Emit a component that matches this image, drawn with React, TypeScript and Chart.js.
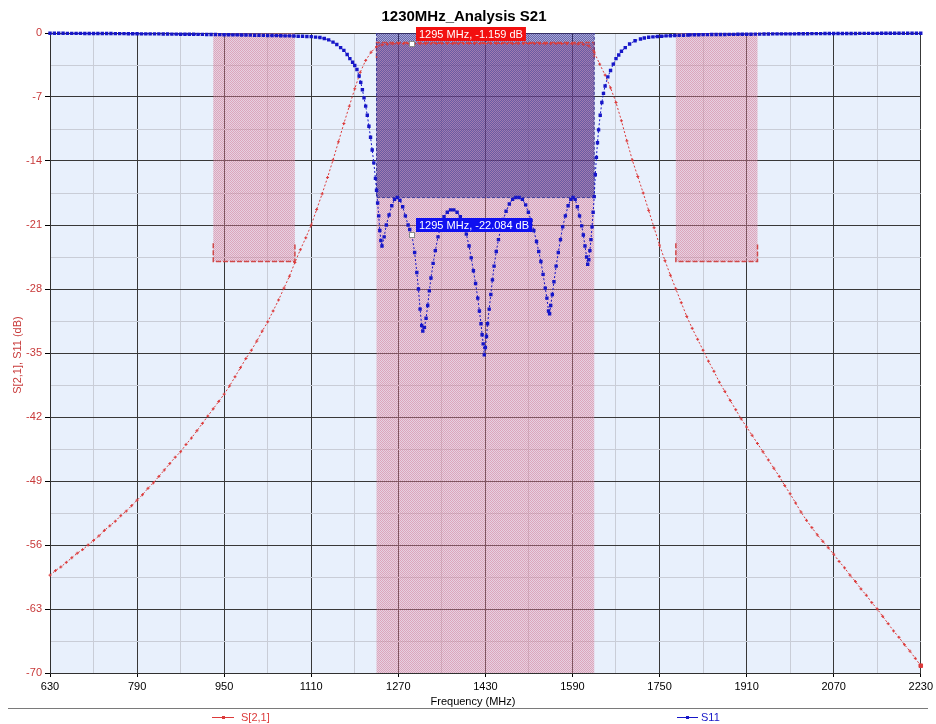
import React, { useEffect, useRef } from 'react';
import { Chart, registerables } from 'chart.js';

Chart.register(...registerables);

const FONT = '"Liberation Sans", Arial, Helvetica, sans-serif';

// ---- axis ticks ----
const X_TICKS = [630, 790, 950, 1110, 1270, 1430, 1590, 1750, 1910, 2070, 2230];
const Y_TICKS = [0, -7, -14, -21, -28, -35, -42, -49, -56, -63, -70];

// ---- S[2,1] trace (MHz, dB) ----
const S21_FREQ = [
  630, 640, 650, 660, 670, 680, 690, 700, 710, 720,
  730, 740, 750, 760, 770, 780, 790, 800, 810, 820,
  830, 840, 850, 860, 870, 880, 890, 900, 910, 920,
  930, 940, 950, 960, 970, 980, 990, 1000, 1010, 1020,
  1030, 1040, 1050, 1060, 1070, 1080, 1090, 1100, 1110, 1120,
  1130, 1140, 1150, 1160, 1170, 1180, 1190, 1200, 1210, 1220,
  1230, 1240, 1250, 1260, 1270, 1280, 1290, 1300, 1310, 1320,
  1330, 1340, 1350, 1360, 1370, 1380, 1390, 1400, 1410, 1420,
  1430, 1440, 1450, 1460, 1470, 1480, 1490, 1500, 1510, 1520,
  1530, 1540, 1550, 1560, 1570, 1580, 1590, 1600, 1610, 1620,
  1630, 1640, 1650, 1660, 1670, 1680, 1690, 1700, 1710, 1720,
  1730, 1740, 1750, 1760, 1770, 1780, 1790, 1800, 1810, 1820,
  1830, 1840, 1850, 1860, 1870, 1880, 1890, 1900, 1910, 1920,
  1930, 1940, 1950, 1960, 1970, 1980, 1990, 2000, 2010, 2020,
  2030, 2040, 2050, 2060, 2070, 2080, 2090, 2100, 2110, 2120,
  2130, 2140, 2150, 2160, 2170, 2180, 2190, 2200, 2210, 2220,
  2230,
];
const S21_DB = [
  -59.3, -58.8, -58.4, -57.9, -57.4, -56.9, -56.5, -56.0, -55.5, -55.0,
  -54.4, -53.9, -53.4, -52.8, -52.3, -51.7, -51.1, -50.5, -49.8, -49.2,
  -48.5, -47.8, -47.1, -46.4, -45.8, -45.0, -44.3, -43.5, -42.7, -41.9,
  -41.1, -40.3, -39.5, -38.6, -37.6, -36.6, -35.6, -34.7, -33.7, -32.6,
  -31.6, -30.4, -29.2, -27.9, -26.6, -25.1, -23.7, -22.4, -21.0, -19.3,
  -17.6, -15.8, -13.9, -11.9, -9.9, -8.0, -6.1, -4.3, -3.0, -2.1,
  -1.5, -1.3, -1.22, -1.18, -1.16, -1.16, -1.16, -1.16, -1.17, -1.17,
  -1.16, -1.15, -1.15, -1.15, -1.16, -1.16, -1.15, -1.15, -1.15, -1.15,
  -1.15, -1.15, -1.15, -1.15, -1.15, -1.16, -1.16, -1.16, -1.15, -1.15,
  -1.16, -1.17, -1.17, -1.16, -1.16, -1.17, -1.18, -1.2, -1.25, -1.4,
  -2.1, -3.4, -4.6, -6.0, -7.6, -9.6, -11.8, -13.9, -15.7, -17.5,
  -19.4, -21.3, -23.2, -24.9, -26.5, -28.0, -29.5, -31.0, -32.3, -33.5,
  -34.7, -35.9, -37.0, -38.2, -39.2, -40.2, -41.2, -42.2, -43.1, -44.0,
  -44.9, -45.8, -46.7, -47.6, -48.5, -49.5, -50.4, -51.4, -52.4, -53.3,
  -54.1, -54.9, -55.6, -56.3, -57.0, -57.8, -58.5, -59.3, -60.0, -60.8,
  -61.5, -62.3, -63.0, -63.8, -64.6, -65.4, -66.1, -66.9, -67.6, -68.4,
  -69.2,
];

// ---- S11 trace as [MHz, dB] pairs ----
const S11_POINTS: [number, number][] = [
  [630, -0.03], [638, -0.03], [646, -0.03], [654, -0.03], [662, -0.04], [670, -0.04], [678, -0.04], [686, -0.04],
  [694, -0.05], [702, -0.05], [710, -0.05], [718, -0.05], [726, -0.06], [734, -0.06], [742, -0.06], [750, -0.07],
  [758, -0.07], [766, -0.07], [774, -0.08], [782, -0.08], [790, -0.08], [798, -0.09], [806, -0.09], [814, -0.1],
  [822, -0.1], [830, -0.1], [838, -0.11], [846, -0.11], [854, -0.12], [862, -0.12], [870, -0.13], [878, -0.13],
  [886, -0.14], [894, -0.14], [902, -0.15], [910, -0.15], [918, -0.16], [926, -0.17], [934, -0.17], [942, -0.18],
  [950, -0.19], [958, -0.19], [966, -0.2], [974, -0.21], [982, -0.22], [990, -0.22], [998, -0.23], [1006, -0.24],
  [1014, -0.25], [1022, -0.26], [1030, -0.27], [1038, -0.28], [1046, -0.29], [1054, -0.3], [1062, -0.31], [1070, -0.32],
  [1078, -0.33], [1086, -0.35], [1094, -0.36], [1102, -0.38], [1110, -0.4],
  [1118, -0.45], [1126, -0.5], [1134, -0.6], [1142, -0.75], [1150, -1.0], [1157, -1.25], [1164, -1.6], [1170, -1.9],
  [1176, -2.35], [1181, -2.8], [1186, -3.2], [1190, -3.55], [1194, -4.0], [1198, -4.7], [1201, -5.4], [1204, -6.2],
  [1207, -7.1], [1210, -8.0], [1213, -9.0], [1216, -10.2], [1219, -11.4], [1222, -12.8], [1225, -14.2], [1228, -15.9],
  [1230, -17.2], [1232, -18.6], [1234, -20.0], [1236, -21.6], [1238, -22.7], [1240, -23.3],
  [1244, -22.3], [1248, -21.0], [1253, -19.9], [1258, -18.9], [1263, -18.2], [1268, -18.0], [1273, -18.3], [1278, -19.0],
  [1283, -20.0], [1288, -21.0], [1291, -21.5], [1295, -22.084], [1300, -24.0], [1304, -26.2], [1307, -28.0], [1310, -30.2],
  [1313, -32.0], [1315, -32.6], [1318, -32.2], [1321, -31.2], [1324, -29.8], [1327, -28.2], [1330, -26.8], [1334, -25.2],
  [1338, -23.8], [1343, -22.3], [1348, -21.0], [1354, -20.1], [1360, -19.6], [1366, -19.35], [1372, -19.35], [1378, -19.6],
  [1384, -20.1], [1390, -21.0], [1395, -22.0], [1400, -23.3], [1404, -24.6], [1408, -26.0], [1412, -27.4], [1416, -29.0],
  [1419, -30.4], [1422, -31.8], [1424, -33.0], [1426, -34.0], [1428, -35.2], [1430, -34.4], [1432, -33.2], [1434, -31.8],
  [1437, -30.2], [1440, -28.6], [1443, -27.0], [1446, -25.5], [1450, -23.9], [1454, -22.6], [1458, -21.5], [1463, -20.4],
  [1468, -19.5], [1474, -18.7], [1480, -18.2], [1486, -18.0], [1492, -18.0], [1498, -18.2], [1504, -18.8], [1509, -19.6],
  [1514, -20.5], [1519, -21.6], [1524, -22.8], [1528, -23.9], [1532, -25.0], [1536, -26.4], [1540, -27.9], [1543, -29.0],
  [1546, -30.4], [1548, -30.7], [1550, -29.8], [1553, -28.6], [1556, -27.2], [1560, -25.5], [1564, -24.0], [1568, -22.6],
  [1572, -21.2], [1577, -20.0], [1582, -18.9], [1587, -18.2], [1591, -18.0], [1595, -18.2], [1599, -19.0], [1603, -20.0],
  [1607, -21.1], [1610, -22.1], [1613, -23.3], [1616, -24.5], [1618, -25.3], [1620, -24.8], [1622, -23.8], [1624, -22.6],
  [1626, -21.2], [1628, -19.6], [1630, -17.9], [1632, -15.5], [1634, -13.6], [1636, -12.0], [1638, -10.6], [1641, -9.0],
  [1644, -7.6], [1647, -6.6], [1650, -5.8], [1655, -4.8], [1660, -4.1], [1665, -3.4], [1670, -2.8], [1675, -2.4],
  [1680, -2.0], [1687, -1.6], [1695, -1.2], [1705, -0.85], [1715, -0.65], [1722, -0.55], [1730, -0.47], [1738, -0.42],
  [1746, -0.38], [1754, -0.35], [1762, -0.32], [1770, -0.3], [1778, -0.28], [1786, -0.26], [1794, -0.24], [1802, -0.22],
  [1806, -0.2], [1814, -0.19], [1822, -0.19], [1830, -0.18], [1838, -0.18], [1846, -0.17], [1854, -0.17], [1862, -0.16],
  [1870, -0.16], [1878, -0.15], [1886, -0.15], [1894, -0.14], [1902, -0.14], [1910, -0.13], [1918, -0.13], [1926, -0.12],
  [1934, -0.12], [1942, -0.11], [1950, -0.11], [1958, -0.1], [1966, -0.1], [1974, -0.1], [1982, -0.09], [1990, -0.09],
  [1998, -0.09], [2006, -0.08], [2014, -0.08], [2022, -0.08], [2030, -0.07], [2038, -0.07], [2046, -0.07], [2054, -0.06],
  [2062, -0.06], [2070, -0.06], [2078, -0.06], [2086, -0.05], [2094, -0.05], [2102, -0.05], [2110, -0.05], [2118, -0.04],
  [2126, -0.04], [2134, -0.04], [2142, -0.04], [2150, -0.04], [2158, -0.03], [2166, -0.03], [2174, -0.03], [2182, -0.03],
  [2190, -0.03], [2198, -0.02], [2206, -0.02], [2214, -0.02], [2222, -0.02], [2230, -0.02],
];

// ---- masks: [start MHz, stop MHz, level dB] ----
const S21_PASS_MASK = [1230, 1630, -1.05];
const S21_STOP_MASKS = [
  [930, 1080, -25],
  [1780, 1930, -25],
];
const S11_PASS_MASK = [1230, 1630, -18];

// ---- markers ----
const MARKER_FREQ = 1295;
const MARKER_S21 = -1.159;
const MARKER_S11 = -22.084;

const TITLE = '1230MHz_Analysis S21';
const X_TITLE = 'Frequency (MHz)';
const Y_TITLE = 'S[2,1], S11 (dB)';
const S21_NAME = 'S[2,1]';
const S11_NAME = 'S11';

const PLOT_BG = '#e8f0fc';
const MAJOR_GRID = '#383838';
const MINOR_GRID = '#c9cdd7';
const S21_COLOR = '#dc3a3a';
const S11_COLOR = '#1616c8';
const Y_LABEL_COLOR = '#c83a3a';
const PINK_TINT = 'rgba(225,150,175,0.35)';
const PINK_DOT = 'rgba(200,70,100,0.3)';
const BLUE_TINT = 'rgba(70,60,160,0.4)';
const BLUE_DOT = 'rgba(30,20,120,0.45)';

function makePattern(ctx: CanvasRenderingContext2D, color: string, phase: number) {
  const c = document.createElement('canvas');
  c.width = 2;
  c.height = 2;
  const g = c.getContext('2d')!;
  g.fillStyle = color;
  if (phase === 0) {
    g.fillRect(0, 0, 1, 1);
    g.fillRect(1, 1, 1, 1);
  } else {
    g.fillRect(1, 0, 1, 1);
    g.fillRect(0, 1, 1, 1);
  }
  return ctx.createPattern(c, 'repeat')!;
}

const decorPlugin = {
  id: 'decor',
  beforeDraw(chart: any) {
    const { ctx, chartArea: a } = chart;
    ctx.save();
    ctx.fillStyle = '#ffffff';
    ctx.fillRect(0, 0, chart.width, chart.height);
    ctx.fillStyle = PLOT_BG;
    ctx.fillRect(a.left, a.top, a.right - a.left, a.bottom - a.top);
    ctx.restore();
  },
  beforeDatasetsDraw(chart: any) {
    const { ctx, chartArea: a } = chart;
    const xs = chart.scales.x;
    const ys = chart.scales.y;
    const X = (v: number) => xs.getPixelForValue(v);
    const Y = (v: number) => ys.getPixelForValue(v);
    const pinkDots = makePattern(ctx, PINK_DOT, 0);
    const blueDots = makePattern(ctx, BLUE_DOT, 1);
    ctx.save();
    ctx.beginPath();
    ctx.rect(a.left, a.top, a.right - a.left, a.bottom - a.top);
    ctx.clip();

    const hatch = (x1: number, y1: number, x2: number, y2: number, tint: string, dots: CanvasPattern) => {
      ctx.fillStyle = tint;
      ctx.fillRect(x1, y1, x2 - x1, y2 - y1);
      ctx.fillStyle = dots;
      ctx.fillRect(x1, y1, x2 - x1, y2 - y1);
    };

    // S21 passband mask: level down to bottom
    const [pf1, pf2, plev] = S21_PASS_MASK;
    hatch(X(pf1), Y(plev), X(pf2), Y(ys.min), PINK_TINT, pinkDots);
    // S21 stop masks: top down to level
    for (const [f1, f2, lev] of S21_STOP_MASKS) {
      hatch(X(f1), Y(ys.max), X(f2), Y(lev), PINK_TINT, pinkDots);
    }
    // S11 passband mask: top down to level
    const [sf1, sf2, slev] = S11_PASS_MASK;
    hatch(X(sf1), Y(ys.max), X(sf2), Y(slev), BLUE_TINT, blueDots);

    // mask outlines
    ctx.lineWidth = 1.5;
    ctx.strokeStyle = '#d04848';
    ctx.setLineDash([5, 2]);
    ctx.beginPath();
    ctx.moveTo(X(pf1), Y(plev - 1.7));
    ctx.lineTo(X(pf1), Y(plev));
    ctx.lineTo(X(pf2), Y(plev));
    ctx.lineTo(X(pf2), Y(plev - 1.7));
    ctx.stroke();
    for (const [f1, f2, lev] of S21_STOP_MASKS) {
      ctx.beginPath();
      ctx.moveTo(X(f1), Y(lev + 2));
      ctx.lineTo(X(f1), Y(lev));
      ctx.lineTo(X(f2), Y(lev));
      ctx.lineTo(X(f2), Y(lev + 2));
      ctx.stroke();
    }
    ctx.lineWidth = 1;
    ctx.strokeStyle = '#3c3c9c';
    ctx.setLineDash([3, 2]);
    ctx.beginPath();
    ctx.moveTo(X(sf1), Y(ys.max));
    ctx.lineTo(X(sf1), Y(slev));
    ctx.lineTo(X(sf2), Y(slev));
    ctx.lineTo(X(sf2), Y(ys.max));
    ctx.stroke();
    ctx.restore();
  },
  afterDatasetsDraw(chart: any) {
    const { ctx } = chart;
    const xs = chart.scales.x;
    const ys = chart.scales.y;
    const drawMarker = (value: number, bg: string) => {
      const px = xs.getPixelForValue(MARKER_FREQ);
      const py = ys.getPixelForValue(value);
      const text = `${MARKER_FREQ} MHz, ${value.toFixed(3)} dB`;
      ctx.save();
      ctx.font = `11px ${FONT}`;
      const w = ctx.measureText(text).width + 6;
      const h = 14;
      const bx = Math.round(px + 4);
      const by = Math.round(py - 3 - h);
      ctx.fillStyle = bg;
      ctx.fillRect(bx, by, w, h);
      ctx.fillStyle = '#ffffff';
      ctx.textBaseline = 'middle';
      ctx.textAlign = 'left';
      ctx.fillText(text, bx + 3, by + h / 2 + 0.5);
      ctx.fillStyle = '#ffffff';
      ctx.strokeStyle = '#8a8a8a';
      ctx.lineWidth = 1;
      ctx.fillRect(Math.round(px) - 2, Math.round(py) - 2, 4, 4);
      ctx.strokeRect(Math.round(px) - 2.5, Math.round(py) - 2.5, 5, 5);
      ctx.restore();
    };
    drawMarker(MARKER_S21, '#f21010');
    drawMarker(MARKER_S11, '#1010f0');
  },
  afterDraw(chart: any) {
    const { ctx, chartArea: a } = chart;
    ctx.save();
    // title
    ctx.fillStyle = '#000000';
    ctx.font = `bold 15px ${FONT}`;
    ctx.textAlign = 'center';
    ctx.textBaseline = 'middle';
    ctx.fillText(TITLE, 464, 17);
    // x title
    ctx.font = `11px ${FONT}`;
    ctx.fillText(X_TITLE, 473, 702);
    // y title
    ctx.save();
    ctx.translate(18, (a.top + a.bottom) / 2 + 2);
    ctx.rotate(-Math.PI / 2);
    ctx.fillStyle = Y_LABEL_COLOR;
    ctx.fillText(Y_TITLE, 0, 0);
    ctx.restore();
    // legend separator
    ctx.strokeStyle = '#7a7a7a';
    ctx.lineWidth = 1;
    ctx.beginPath();
    ctx.moveTo(8, 708.5);
    ctx.lineTo(928, 708.5);
    ctx.stroke();
    // legend S21
    const ly = 717;
    ctx.strokeStyle = S21_COLOR;
    ctx.beginPath();
    ctx.moveTo(212, ly + 0.5);
    ctx.lineTo(234, ly + 0.5);
    ctx.stroke();
    ctx.fillStyle = S21_COLOR;
    ctx.fillRect(222, ly - 1, 3, 3);
    ctx.textAlign = 'left';
    ctx.fillText(S21_NAME, 241, ly + 0.5);
    // legend S11
    ctx.strokeStyle = S11_COLOR;
    ctx.beginPath();
    ctx.moveTo(677, ly + 0.5);
    ctx.lineTo(698, ly + 0.5);
    ctx.stroke();
    ctx.fillStyle = S11_COLOR;
    ctx.fillRect(686, ly - 1, 3, 3);
    ctx.fillText(S11_NAME, 701, ly + 0.5);
    ctx.restore();
  },
};

function buildTicks(major: number[]) {
  const t: { value: number }[] = [];
  for (let i = 0; i < major.length; i++) {
    t.push({ value: major[i] });
    if (i < major.length - 1) t.push({ value: (major[i] + major[i + 1]) / 2 });
  }
  return t;
}

export default function App() {
  const ref = useRef<HTMLCanvasElement>(null);

  useEffect(() => {
    document.body.style.margin = '0';
    const canvas = ref.current!;
    Chart.defaults.font.family = FONT;
    const s21Data = S21_FREQ.map((f, i) => ({ x: f, y: S21_DB[i] }));
    const s11Data = S11_POINTS.map(([f, v]) => ({ x: f, y: v }));
    const lastS21 = s21Data.length - 1;

    const chart = new Chart(canvas, {
      type: 'line',
      data: {
        datasets: [
          {
            label: S11_NAME,
            data: s11Data,
            borderColor: S11_COLOR,
            backgroundColor: S11_COLOR,
            borderWidth: 1,
            borderDash: [2, 2],
            pointStyle: 'rect',
            pointRadius: 2.4,
            pointBorderWidth: 0,
            pointBackgroundColor: S11_COLOR,
            tension: 0,
            fill: false,
            clip: 6,
          },
          {
            label: S21_NAME,
            data: s21Data,
            borderColor: S21_COLOR,
            backgroundColor: S21_COLOR,
            borderWidth: 1,
            borderDash: [2, 2],
            pointStyle: (c: any) => (c.dataIndex === lastS21 ? 'rect' : 'cross'),
            pointRadius: (c: any) => (c.dataIndex === lastS21 ? 2.5 : 1.5),
            pointBorderWidth: 1,
            pointBorderColor: S21_COLOR,
            pointBackgroundColor: S21_COLOR,
            tension: 0,
            fill: false,
            clip: 6,
          },
        ],
      },
      options: {
        responsive: false,
        animation: false,
        events: [],
        devicePixelRatio: 1,
        layout: { padding: { left: 0, right: 14, top: 33, bottom: 0 } },
        plugins: {
          legend: { display: false },
          title: { display: false },
          tooltip: { enabled: false },
        },
        scales: {
          x: {
            type: 'linear',
            min: X_TICKS[0],
            max: X_TICKS[X_TICKS.length - 1],
            afterBuildTicks: (scale: any) => {
              scale.ticks = buildTicks(X_TICKS);
            },
            afterFit: (scale: any) => {
              scale.height = 51;
            },
            ticks: {
              autoSkip: false,
              maxRotation: 0,
              minRotation: 0,
              padding: 3,
              color: '#000000',
              font: { size: 11, family: FONT },
              callback: (v: any) => (X_TICKS.includes(Number(v)) ? String(v) : ''),
            },
            grid: {
              color: (c: any) => (c.tick && X_TICKS.includes(c.tick.value) ? MAJOR_GRID : MINOR_GRID),
              tickColor: (c: any) => (c.tick && X_TICKS.includes(c.tick.value) ? '#000000' : 'rgba(0,0,0,0)'),
              tickLength: 4,
              lineWidth: 1,
            },
            border: { display: true, color: '#303030', width: 1 },
          },
          y: {
            type: 'linear',
            min: Y_TICKS[Y_TICKS.length - 1],
            max: Y_TICKS[0],
            afterBuildTicks: (scale: any) => {
              scale.ticks = buildTicks(Y_TICKS);
            },
            afterFit: (scale: any) => {
              scale.width = 50;
            },
            ticks: {
              autoSkip: false,
              padding: 3,
              color: Y_LABEL_COLOR,
              font: { size: 11, family: FONT },
              callback: (v: any) => (Y_TICKS.includes(Number(v)) ? String(v) : ''),
            },
            grid: {
              color: (c: any) => (c.tick && Y_TICKS.includes(c.tick.value) ? MAJOR_GRID : MINOR_GRID),
              tickColor: (c: any) => (c.tick && Y_TICKS.includes(c.tick.value) ? '#000000' : 'rgba(0,0,0,0)'),
              tickLength: 5,
              lineWidth: 1,
            },
            border: { display: true, color: '#303030', width: 1 },
          },
        },
      },
      plugins: [decorPlugin],
    } as any);

    return () => chart.destroy();
  }, []);

  return (
    <canvas
      ref={ref}
      width={936}
      height={724}
      style={{ display: 'block', width: 936, height: 724 }}
    />
  );
}
